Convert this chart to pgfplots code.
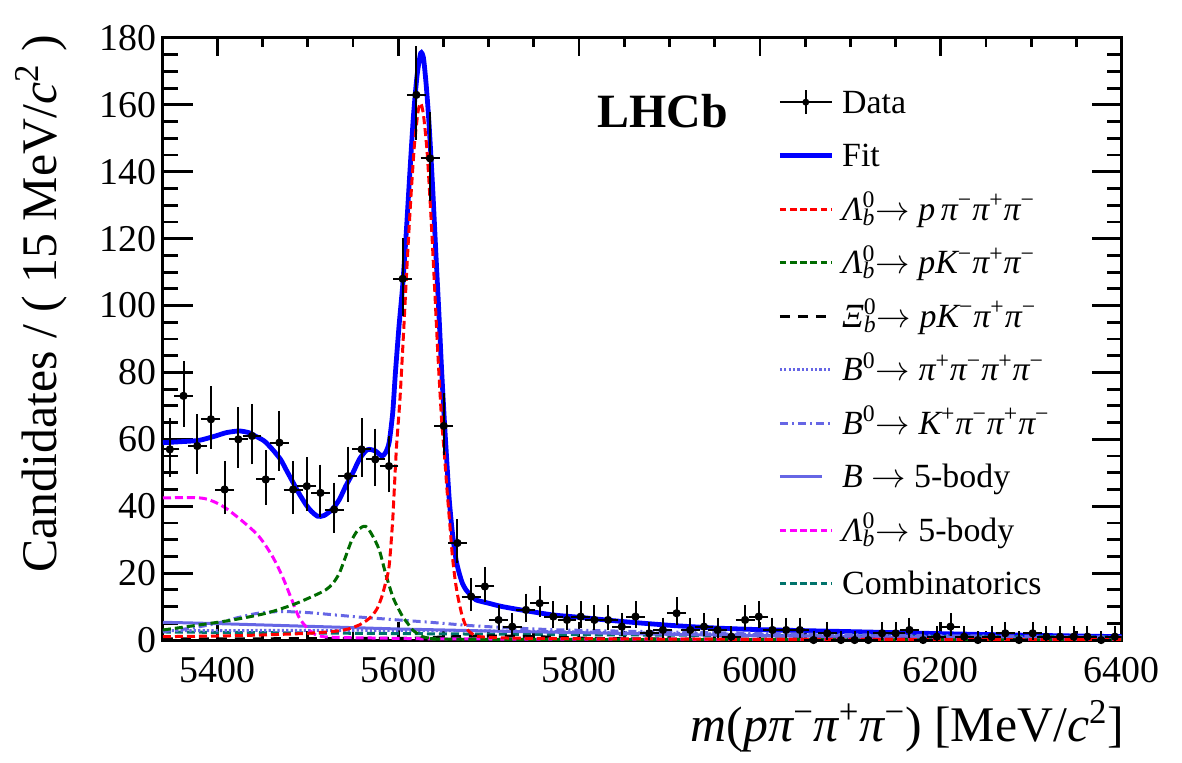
\documentclass[border=0pt]{standalone}
\usepackage{fontspec}
\setmainfont{Liberation Serif}
\usepackage{pgfplots}
\pgfplotsset{compat=1.18}
\usepackage{pgfplotstable}

\definecolor{fitblue}{rgb}{0,0,1}
\definecolor{sigred}{rgb}{1,0,0}
\definecolor{pkgreen}{rgb}{0,0.42,0}
\definecolor{bslate}{rgb}{0.40,0.40,0.90}
\definecolor{lbmag}{rgb}{1,0,1}
\definecolor{combteal}{rgb}{0,0.45,0.42}

\newcommand{\Lbz}{{\itshape Λ}\rlap{\textsuperscript{0}}\textsubscript{\itshape b}}
\newcommand{\Xbz}{{\itshape Ξ}\rlap{\textsuperscript{0}}\textsubscript{\itshape b}}
\newcommand{\pim}{{\itshape π}\textsuperscript{−}}
\newcommand{\pip}{{\itshape π}\textsuperscript{+}}
\newcommand{\Km}{{\itshape K}\textsuperscript{−}}
\newcommand{\Kp}{{\itshape K}\textsuperscript{+}}
\newcommand{\arr}{$\rightarrow$}

% binned candidates: centre, count, half bin width, upper and lower Poisson errors
\pgfplotstableread{
x y ex ep em
5347.57 57 7.57 8.59 7.45
5362.71 73 7.57 9.57 8.44
5377.86 58 7.57 8.65 7.52
5393.00 66 7.57 9.15 8.02
5408.14 45 7.57 7.75 6.61
5423.29 60 7.57 8.78 7.65
5438.43 61 7.57 8.84 7.71
5453.57 48 7.57 7.97 6.83
5468.71 59 7.57 8.72 7.58
5483.86 45 7.57 7.75 6.61
5499.00 46 7.57 7.83 6.68
5514.14 44 7.57 7.68 6.54
5529.29 39 7.57 7.29 6.15
5544.43 49 7.57 8.04 6.90
5559.57 57 7.57 8.59 7.45
5574.71 54 7.57 8.39 7.25
5589.86 52 7.57 8.25 7.11
5605.00 108 7.57 11.41 10.29
5620.14 163 7.57 13.78 12.67
5635.29 144 7.57 13.01 11.90
5650.43 64 7.57 9.03 7.90
5665.57 29 7.57 6.36 5.29
5680.71 13 7.57 4.73 3.58
5695.86 16 7.57 5.09 3.90
5711.00 6 7.57 3.58 2.38
5726.14 4 7.57 3.16 1.91
5741.29 9 7.57 4.11 2.94
5756.43 11 7.57 4.41 3.26
5771.57 7 7.57 3.77 2.58
5786.71 6 7.57 3.58 2.38
5801.86 7 7.57 3.77 2.58
5817.00 6 7.57 3.58 2.38
5832.14 6 7.57 3.58 2.38
5847.29 4 7.57 3.16 1.91
5862.43 7 7.57 3.77 2.58
5877.57 2 7.57 2.64 1.29
5892.71 3 7.57 2.92 1.63
5907.86 8 7.57 3.95 2.77
5923.00 3 7.57 2.92 1.63
5938.14 4 7.57 3.16 1.91
5953.29 3 7.57 2.92 1.63
5968.43 1 7.57 2.30 0.83
5983.57 6 7.57 3.58 2.38
5998.71 7 7.57 3.77 2.58
6013.86 3 7.57 2.92 1.63
6029.00 3 7.57 2.92 1.63
6044.14 3 7.57 2.92 1.63
6059.29 0 7.57 1.84 0
6074.43 2 7.57 2.64 1.29
6089.57 0 7.57 1.84 0
6104.71 0 7.57 1.84 0
6119.86 0 7.57 1.84 0
6135.00 2 7.57 2.64 1.29
6150.14 2 7.57 2.64 1.29
6165.29 3 7.57 2.92 1.63
6180.43 0 7.57 1.84 0
6195.57 1 7.57 2.30 0.83
6210.71 4 7.57 3.16 1.91
6225.86 1 7.57 2.30 0.83
6241.00 0 7.57 1.84 0
6256.14 1 7.57 2.30 0.83
6271.29 2 7.57 2.64 1.29
6286.43 0 7.57 1.84 0
6301.57 2 7.57 2.64 1.29
6316.71 1 7.57 2.30 0.83
6331.86 1 7.57 2.30 0.83
6347.00 1 7.57 2.30 0.83
6362.14 1 7.57 2.30 0.83
6377.29 0 7.57 1.84 0
6392.43 1 7.57 2.30 0.83
}\datatab

\pgfplotsset{
  massframe/.style={
    scale only axis,
    width=479.35bp, height=301bp,
    xmin=5340, xmax=6400, ymin=0, ymax=180,
    tick align=inside,
    axis line style={line width=1.5bp},
    every tick/.append style={black, line width=1.4bp},
  },
}

\begin{document}
\begin{tikzpicture}
% y ticks are longer than x ticks: drawn by a second, empty frame
\begin{axis}[
  massframe,
  xtick=\empty,
  ytick={0,20,...,180}, minor y tick num=3,
  yticklabels={},
  major tick length=15bp, minor tick length=7.5bp,
  axis line style={draw=none},
]
\end{axis}
\begin{axis}[
  massframe,
  xtick={5400,5600,...,6400},
  ytick={0,20,...,180},
  minor x tick num=3, minor y tick num=3,
  major tick length=9bp, minor tick length=4.5bp,
  ytick style={draw=none},
  /pgf/number format/assume math mode=true,
  /pgf/number format/1000 sep={},
  tick label style={font=\fontsize{19}{22}\selectfont},
  xticklabel style={yshift=-5bp},
  xlabel={{\itshape m}({\itshape p}\pim\pip\pim) [MeV/{\itshape c}\textsuperscript{2}]},
  xlabel style={font=\fontsize{25}{30}\selectfont, inner sep=0pt,
    at={(axis description cs:1.003,-0.1678)}, anchor=base east},
  ylabel={Candidates / ( 15 MeV/{\itshape c}\textsuperscript{2} )},
  ylabel style={font=\fontsize{25}{30}\selectfont, inner sep=0pt,
    at={(axis description cs:-0.1116,1.005)}, anchor=base east},
  legend image code/.code={\draw[#1] (0bp,5.5bp) -- (26bp,5.5bp);},
  legend style={at={(axis description cs:0.6342,0.9223)}, anchor=north west,
    draw=none, fill=none, font=\fontsize{17}{20}\selectfont,
    row sep=9.75bp, column sep=0bp,
    cells={anchor=base west},
    nodes={inner sep=0pt, text height=12bp, text depth=5bp},
    /tikz/every odd column/.append style={column sep=4bp}},
]
% legend entries
\addlegendimage{black, line width=1bp,
  legend image code/.code={
    \draw[black, line width=1bp] (0bp,5.5bp) -- (26bp,5.5bp);
    \draw[black, line width=1bp] (13bp,-0.5bp) -- (13bp,11.5bp);
    \fill[black] (13bp,5.5bp) circle (1.2bp);}}
\addlegendentry{Data}
\addlegendimage{fitblue, line width=2.4bp}
\addlegendentry{Fit}
\addlegendimage{sigred, line width=1.5bp, dash pattern=on 3.3bp off 1.8bp}
\addlegendentry{\Lbz\arr\ {\itshape p}\,\pim\pip\pim}
\addlegendimage{pkgreen, line width=1.5bp, dash pattern=on 3.3bp off 1.8bp}
\addlegendentry{\Lbz\arr\ {\itshape p}\Km\pip\pim}
\addlegendimage{black, line width=1.5bp, dash pattern=on 5bp off 4bp}
\addlegendentry{\Xbz\arr\ {\itshape p}\Km\pip\pim}
\addlegendimage{bslate, line width=1.5bp, dash pattern=on 1.1bp off 1.1bp}
\addlegendentry{{\itshape B}\textsuperscript{0}\arr\ \pip\pim\pip\pim}
\addlegendimage{bslate, line width=1.5bp, dash pattern=on 4bp off 2bp on 1bp off 2bp}
\addlegendentry{{\itshape B}\textsuperscript{0}\arr\ \Kp\pim\pip\pim}
\addlegendimage{bslate, line width=1.5bp,
  legend image code/.code={\draw[bslate, line width=1.5bp] (0bp,5.5bp) -- (21bp,5.5bp);}}
\addlegendentry{{\itshape B}\ \arr\ 5-body}
\addlegendimage{lbmag, line width=1.5bp, dash pattern=on 3.3bp off 1.8bp}
\addlegendentry{\Lbz\arr\ 5-body}
\addlegendimage{combteal, line width=1.5bp, dash pattern=on 3.3bp off 1.8bp}
\addlegendentry{Combinatorics}

% total fit
\addplot[forget plot, fitblue, line width=2.4bp, smooth, tension=0.4] coordinates {
(5340,59.0) (5360,59.3) (5380,59.7) (5398,61) (5410,62) (5424,62.5) (5435,62.0)
(5442,61) (5452,59.5) (5461,57) (5470,54) (5476,51) (5483,47.5) (5490,44)
(5498,40.5) (5504,38.5) (5511,37) (5518,37.2) (5527,39) (5535,42) (5542,46)
(5550,50) (5557,54) (5564,56.5) (5568,57) (5575,56.5) (5582,55) (5586,56)
(5590,59) (5594,68) (5597,80) (5601,94) (5605,106) (5609,122) (5613,140)
(5617,157) (5621,169) (5625,175.5) (5628,174) (5631,166) (5634,155)
(5638,136) (5642,114) (5645,98) (5648,81) (5651,66) (5653,57) (5656.5,42)
(5660,32) (5664,24) (5667.5,20) (5671,17) (5675,15) (5680,13.5) (5686,12)
(5700,11) (5715,10) (5740,8.8) (5771,7.5) (5800,6.8) (5845,5.6) (5900,4.4)
(5950,3.6) (6000,3.1) (6100,2.5) (6200,1.9) (6300,1.4) (6400,1.0)};

% combinatorial background
\addplot[forget plot, combteal, line width=1.5bp, dash pattern=on 4bp off 2bp, smooth] coordinates {
(5340,2.4) (5500,2.1) (5700,1.75) (5900,1.45) (6100,1.2) (6300,1.0) (6400,0.9)};

% B0 -> pi pi pi pi misidentified
\addplot[forget plot, bslate, line width=1.5bp, dash pattern=on 1.1bp off 1.1bp, smooth] coordinates {
(5340,2.8) (5400,2.8) (5500,2.9) (5600,2.9) (5700,2.7) (5800,2.4) (5900,2.0)
(6000,1.6) (6100,1.3) (6200,1.0) (6300,0.8) (6400,0.6)};

% B -> 5-body
\addplot[forget plot, bslate, line width=1.5bp, smooth] coordinates {
(5340,5.3) (5400,4.9) (5450,4.5) (5500,4.1) (5550,3.7) (5600,3.3) (5650,3.0)
(5700,2.7) (5800,2.2) (5900,1.7) (6000,1.3) (6100,1.0) (6200,0.7) (6300,0.5) (6400,0.35)};

% B0 -> K pi pi pi misidentified
\addplot[forget plot, bslate, line width=1.5bp, dash pattern=on 4bp off 2bp on 1bp off 2bp, smooth] coordinates {
(5340,2.5) (5370,3.5) (5400,5) (5420,6.5) (5445,8) (5470,8.5) (5500,8.2)
(5530,7.5) (5560,6.8) (5600,6) (5640,5.2) (5680,4.3) (5720,3.7) (5760,3.2)
(5800,2.9) (5900,2.4) (6000,2.0) (6100,1.6) (6200,1.3) (6300,1.1) (6400,0.9)};

% Xi_b -> p K pi pi
\addplot[forget plot, black, line width=1.5bp, dash pattern=on 5bp off 4bp, smooth] coordinates {
(5340,0.3) (5600,0.5) (5650,0.9) (5700,1.2) (5750,1.0) (5800,0.6) (5900,0.3) (6400,0.1)};

% Lambda_b -> 5-body
\addplot[forget plot, lbmag, line width=1.5bp, dash pattern=on 4bp off 2bp, smooth] coordinates {
(5340,42.5) (5380,42.5) (5395,41.5) (5409,39.5) (5428,35.5) (5446,31) (5461,25)
(5472,19) (5481,13) (5490,7) (5498,4) (5505,2.2) (5513,1.2) (5530,0.8)
(5600,0.5) (5700,0.3) (6400,0.1)};

% Lambda_b -> p K pi pi
\addplot[forget plot, pkgreen, line width=1.5bp, dash pattern=on 4bp off 2bp, smooth] coordinates {
(5340,3.0) (5380,4.5) (5417,6) (5454,8) (5483,10.5) (5505,13) (5520,15)
(5528,17) (5535,20) (5542,25) (5549,30) (5556,33) (5564,34) (5571,31.5)
(5579,27) (5586,20) (5594,13) (5600,9.5) (5605,7) (5611,4.8) (5616,3)
(5622,1.8) (5627,1) (5640,0.5) (5700,0.2) (6400,0)};

% Lambda_b -> p pi pi pi signal
\addplot[forget plot, sigred, line width=1.5bp, dash pattern=on 4bp off 2bp, smooth, tension=0.4] coordinates {
(5340,1.0) (5400,1.2) (5450,1.5) (5500,2.0) (5530,2.6) (5545,3.3) (5557,4.5)
(5565,5.8) (5571,7.2) (5577,9.5) (5582,13) (5586,17) (5590,22) (5594,36)
(5598,57) (5602,72) (5606,92) (5610,113) (5614,132) (5618,148) (5622,158)
(5625,160.5) (5628,157) (5632,146) (5636,128) (5640,107) (5644,85) (5648,66)
(5651,56) (5654,45) (5657,35) (5660,25) (5663,18) (5666,13) (5671,7)
(5677,3) (5684,1.5) (5690,1.0) (5720,0.6) (5800,0.4) (6000,0.2) (6400,0.1)};

% data
\addplot[forget plot, black, only marks, mark=*, mark size=1.8bp,
  mark options={fill=black, draw=black, line width=0.5bp},
  error bars/.cd, x dir=both, x explicit, y dir=both, y explicit,
  error bar style={line width=1bp, black},
  error mark options={line width=1bp, mark size=1.3bp, black}]
  table[x=x, y=y, x error=ex, y error plus=ep, y error minus=em] {\datatab};

\node[font=\bfseries\fontsize{24}{28}\selectfont] at (axis description cs:0.5215,0.8787) {LHCb};
\end{axis}
\pgfresetboundingbox
\path[use as bounding box] (-81.5bp,-61.5bp) rectangle (509.5bp,320bp);
\end{tikzpicture}
\end{document}
